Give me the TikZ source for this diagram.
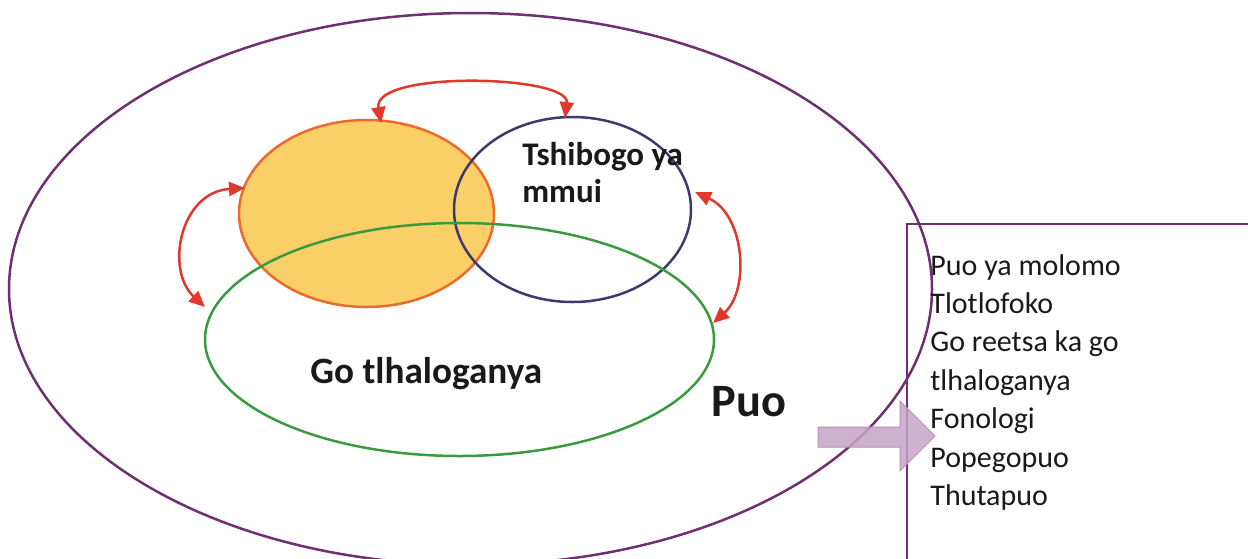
\documentclass[tikz,border=0pt]{standalone}
\usepackage{fontspec}
\setmainfont{Carlito}
\usetikzlibrary{shapes.geometric,arrows.meta}

\definecolor{purpleline}{HTML}{702F70}
\definecolor{orangefill}{HTML}{FBCF67}
\definecolor{orangeline}{HTML}{EC6A2C}
\definecolor{navyline}{HTML}{3C3A6E}
\definecolor{greenline}{HTML}{3A9A3F}
\definecolor{redline}{HTML}{E2382B}
\definecolor{arrowfill}{HTML}{C6A3C6}
\definecolor{arrowline}{HTML}{B88FB8}

\tikzset{
  loop/.style={ellipse, draw, line width=1.25pt, inner sep=0pt},
  rarrow/.style={draw=redline, line width=1.25pt,
    {Triangle[length=8pt,width=7pt]}-{Triangle[length=8pt,width=7pt]}},
}

\begin{document}
\begin{tikzpicture}[x=0.5pt,y=-0.5pt]
        \useasboundingbox (0,0) rectangle (1248,558);

        \begin{scope}[every node/.style={loop}]
          \node[draw=purpleline, minimum width=461.5pt, minimum height=276pt] (puo) at (470.5,289) {};
          \node[draw=orangeline, fill=orangefill, minimum width=127.5pt, minimum height=93.5pt] (a) at (366.5,213.5) {};
          \node[draw=navyline, minimum width=118.5pt, minimum height=92.5pt] (b) at (572.5,209.5) {};
          \node[draw=greenline, minimum width=254.5pt, minimum height=116.5pt] (c) at (459.5,339.5) {};
        \end{scope}

        % box on the right
        \draw[purpleline, line width=1.25pt] (907,570) -- (907,224) -- (1260,224);

        % block arrow
        \draw[draw=arrowline, fill=arrowfill, fill opacity=.85, line width=.5pt]
          (818,427) -- (900,427) -- (900,401) -- (935,436) -- (900,471) -- (900,447) -- (818,447) -- cycle;

        \coordinate (1) at (381,123);
        \coordinate (2) at (565,118);
        \coordinate (3) at (245,188);
        \coordinate (4) at (205,307);
        \coordinate (5) at (695,192);
        \coordinate (6) at (713,323);

        \draw[rarrow] (1) .. controls (372,70) and (570,75) .. (2);
        \draw[rarrow] (3) .. controls (180,192) and (165,270) .. (4);
        \draw[rarrow] (5) .. controls (745,215) and (750,290) .. (6);

        \begin{scope}[every node/.style={anchor=base west, inner sep=0pt, text=black!90}]
          \node[font=\bfseries\fontsize{16.5}{18}\selectfont] (t1) at (522,165) {Tshibogo ya};
          \node[font=\bfseries\fontsize{16.5}{18}\selectfont] (t2) at (522,202) {mmui};
          \node[font=\bfseries\fontsize{18.6}{20}\selectfont] (t3) at (310,383) {Go tlhaloganya};
          \node[font=\bfseries\fontsize{23.2}{25}\selectfont] (t4) at (711,416) {Puo};
          \foreach \t [count=\i from 0] in {Puo ya molomo, Tlotlofoko, Go reetsa ka go,
              tlhaloganya, Fonologi, Popegopuo, Thutapuo}
            \node[font=\fontsize{15}{17}\selectfont] (l\i) at (930,275+38.4*\i) {\t};
        \end{scope}

      \end{tikzpicture}
\end{document}
